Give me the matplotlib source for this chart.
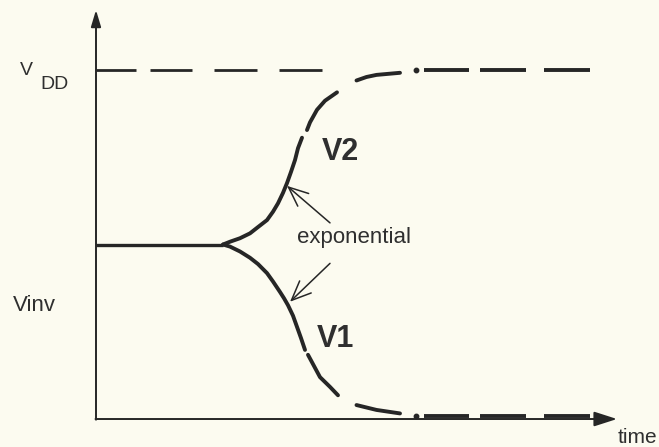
import matplotlib
matplotlib.use("Agg")
import matplotlib.pyplot as plt

# Supply levels (V)
VDD = 5.0
VINV = 2.5
V_LOW = 0.04

# Common flat start at the inverter threshold
flat_t = [0.0, 2.54]
flat_v = [VINV, VINV]

# V2: rises exponentially away from Vinv toward VDD (drawn in pieces)
v2_solid_t = [2.54, 2.68, 2.88, 3.08, 3.24, 3.42, 3.54, 3.64, 3.74, 3.82, 3.90, 3.98, 4.04, 4.12]
v2_solid_v = [2.50, 2.54, 2.59, 2.66, 2.75, 2.85, 2.97, 3.09, 3.24, 3.38, 3.54, 3.71, 3.88, 4.03]
v2_seg2_t = [4.22, 4.28, 4.42, 4.58, 4.82]
v2_seg2_v = [4.14, 4.25, 4.43, 4.56, 4.68]
v2_seg3_t = [5.21, 5.41, 5.61, 6.08]
v2_seg3_v = [4.85, 4.90, 4.93, 4.96]

# V1: falls exponentially away from Vinv toward ground
v1_solid_t = [2.54, 2.68, 2.88, 3.08, 3.24, 3.42, 3.54, 3.68, 3.76, 3.84, 3.94, 4.02, 4.10, 4.18]
v1_solid_v = [2.50, 2.47, 2.40, 2.31, 2.22, 2.09, 1.97, 1.82, 1.73, 1.63, 1.48, 1.32, 1.16, 0.99]
v1_seg2_t = [4.24, 4.48, 4.68, 4.84]
v1_seg2_v = [0.92, 0.60, 0.46, 0.34]
v1_seg3_t = [5.21, 5.61, 6.08]
v1_seg3_v = [0.20, 0.13, 0.08]

# Settled levels: dot then dashes
settle_dot_t = 6.40
settle_dashes = [(6.56, 7.46), (7.68, 8.60), (8.96, 9.88)]
vdd_ref_dashes = [(0.0, 0.80), (1.08, 1.92), (2.36, 3.22), (3.66, 4.52)]

INK = "#262626"
TEXT = "#2f2f2f"
BG = "#fcfbf0"

fig = plt.figure(figsize=(6.59, 4.47), dpi=100, facecolor=BG)
ax = fig.add_axes([0, 0, 1, 1])
ax.set_facecolor(BG)
ax.set_xlim(-1.92, 11.26)
ax.set_ylim(-0.401, 6.003)
ax.axis("off")

# axes with arrow heads
ax.annotate("", xy=(0, 5.86), xytext=(0, -0.01),
            arrowprops=dict(arrowstyle="-|>,head_length=1.0,head_width=0.3",
                            mutation_scale=10, lw=1.4, color=INK,
                            shrinkA=0, shrinkB=0))
ax.annotate("", xy=(10.42, 0), xytext=(-0.01, 0),
            arrowprops=dict(arrowstyle="-|>,head_length=1.4,head_width=0.45",
                            mutation_scale=10, lw=1.4, color=INK,
                            shrinkA=0, shrinkB=0))

# VDD reference dashes
for a, b in vdd_ref_dashes:
    ax.plot([a, b], [VDD, VDD], color=INK, lw=2.0, solid_capstyle="butt")

# flat start
ax.plot(flat_t, flat_v, color=INK, lw=2.4, solid_capstyle="butt")

curve_kw = dict(color=INK, lw=2.8, solid_capstyle="round", solid_joinstyle="round")
for t, v in [(v2_solid_t, v2_solid_v), (v2_seg2_t, v2_seg2_v), (v2_seg3_t, v2_seg3_v),
             (v1_solid_t, v1_solid_v), (v1_seg2_t, v1_seg2_v), (v1_seg3_t, v1_seg3_v)]:
    ax.plot(t, v, **curve_kw)

for level in (VDD, V_LOW):
    ax.plot([settle_dot_t], [level], marker="o", ms=3.2, color=INK, mec=INK)
    for a, b in settle_dashes:
        ax.plot([a, b], [level, level], color=INK, lw=2.8, solid_capstyle="butt")

# arrows pointing at the exponential regions
arrow_kw = dict(arrowstyle="->,head_length=0.7,head_width=0.3", mutation_scale=20,
                lw=1.1, color=INK, shrinkA=0, shrinkB=0)
ax.annotate("", xy=(3.82, 3.34), xytext=(4.68, 2.81), arrowprops=arrow_kw)
ax.annotate("", xy=(3.88, 1.68), xytext=(4.68, 2.23), arrowprops=arrow_kw)

font = "Liberation Sans"
ax.text(-1.40, 4.93, "V", fontsize=14, family=font, color=TEXT, ha="center", va="baseline")
ax.text(-0.84, 4.73, "DD", fontsize=14, family=font, color=TEXT, ha="center", va="baseline")
ax.text(-1.24, 1.55, "Vinv", fontsize=16, family=font, color=TEXT, ha="center", va="baseline")
ax.text(4.88, 3.71, "V2", fontsize=22, family=font, weight="bold", color=TEXT,
        ha="center", va="baseline")
ax.text(4.79, 1.03, "V1", fontsize=22, family=font, weight="bold", color=TEXT,
        ha="center", va="baseline")
ax.text(5.16, 2.52, "exponential", fontsize=16, family=font, color=TEXT,
        ha="center", va="baseline")
ax.text(10.82, -0.344, "time", fontsize=15, family=font, color=TEXT,
        ha="center", va="baseline")

fig.savefig("out.png", dpi=100, facecolor=BG)
